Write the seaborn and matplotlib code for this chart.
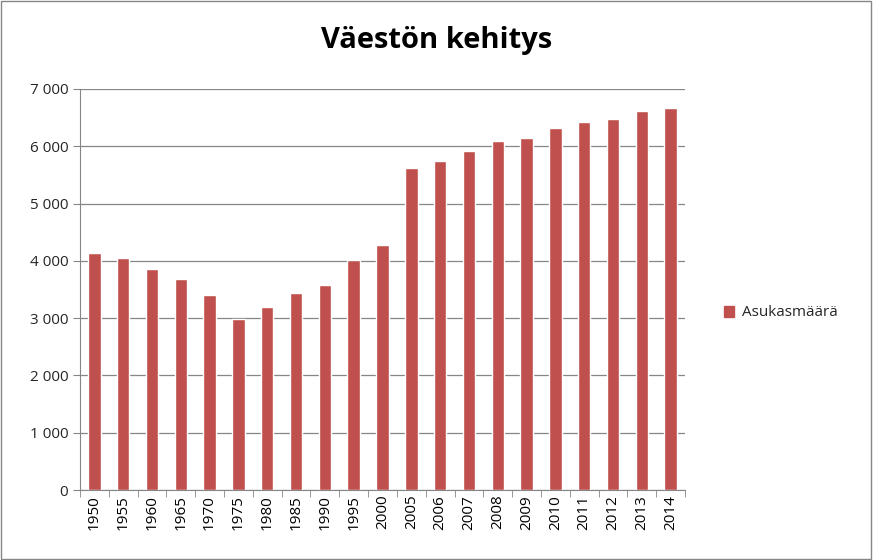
import matplotlib
matplotlib.use('Agg')
import matplotlib.pyplot as plt
from matplotlib.ticker import FuncFormatter, MultipleLocator, FixedLocator
from matplotlib.patches import Rectangle, Patch
import seaborn as sns
import pandas as pd

years = ['1950', '1955', '1960', '1965', '1970', '1975', '1980', '1985', '1990', '1995',
         '2000', '2005', '2006', '2007', '2008', '2009', '2010', '2011', '2012', '2013', '2014']
population = [4140, 4050, 3860, 3690, 3400, 2990, 3190, 3440, 3580, 4020,
              4270, 5620, 5740, 5920, 6090, 6140, 6320, 6420, 6470, 6620, 6660]

df = pd.DataFrame({'year': years, 'pop': population})

sns.set_style('white')
plt.rcParams['font.family'] = ['Open Sans', 'DejaVu Sans']

fig = plt.figure(figsize=(8.73, 5.6), dpi=100)
ax = fig.add_axes([80/873, 70/560, 605/873, 401/560])
color = '#C0504D'
sns.barplot(data=df, x='year', y='pop', color=color, width=0.43, saturation=1, ax=ax)

ax.set_ylim(0, 7000)
ax.yaxis.set_major_locator(MultipleLocator(1000))
ax.yaxis.set_major_formatter(FuncFormatter(lambda v, p: f'{int(v):,}'.replace(',', ' ')))
ax.grid(axis='y', color='#868686', linewidth=0.9)
ax.set_axisbelow(True)
ax.set_xlabel('')
ax.set_ylabel('')
for s in ['top', 'right']:
    ax.spines[s].set_visible(False)
for s in ['left', 'bottom']:
    ax.spines[s].set_color('#868686')
ax.set_xlim(-0.5, len(years) - 0.5)
ax.xaxis.set_minor_locator(FixedLocator([i - 0.5 for i in range(len(years) + 1)]))
ax.tick_params(axis='x', which='major', rotation=90, labelsize=11, length=0, colors='black')
ax.tick_params(axis='x', which='minor', length=5, color='#868686', bottom=True)
ax.tick_params(axis='y', labelsize=11, length=5, color='#868686', left=True)

fig.text(0.5, 0.915, 'Väestön kehitys', ha='center', fontsize=21, fontweight='bold', color='black')
fig.legend(handles=[Patch(color=color, label='Asukasmäärä')], loc='center left',
           bbox_to_anchor=(710/873, 1 - 313/560), frameon=False, fontsize=11,
           handlelength=0.7, handleheight=0.7, handletextpad=0.5)
fig.patches.append(Rectangle((0.001, 0.001), 0.997, 0.997, transform=fig.transFigure,
                             fill=False, edgecolor='#868686', linewidth=1))

fig.savefig('out.png', dpi=100)
